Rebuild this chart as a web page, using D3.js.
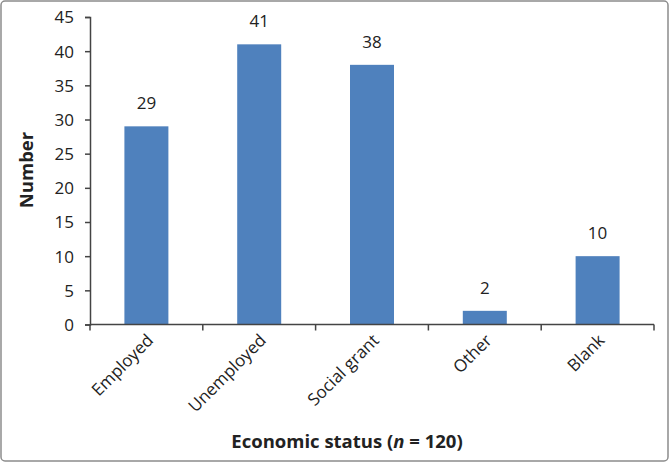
<!DOCTYPE html>
<html>
<head>
<meta charset="utf-8">
<script src="https://cdn.jsdelivr.net/npm/d3@7"></script>
<style>
    body { margin: 0; background: #fff; }
    text { font-family: "Open Sans", "Noto Sans", sans-serif; fill: #222; }
</style>
</head>
<body>
<script>
    // chart data
    let categories = ["Employed", "Unemployed", "Social grant", "Other", "Blank"];
    let counts = [29, 41, 38, 2, 10];
    let yTicks = [0, 5, 10, 15, 20, 25, 30, 35, 40, 45];

    window.onload = function () {
        let width = 670,
            height = 463;

        var svg = d3.select("body")
            .append("svg")
            .attr("width", width)
            .attr("height", height);

        //outer frame
        svg.append("rect")
            .attr("x", 1)
            .attr("y", 1)
            .attr("width", 667)
            .attr("height", 460)
            .attr("rx", 4)
            .attr("fill", "white")
            .attr("stroke", "#8c8c8c")
            .attr("stroke-width", 1.5);

        let left = 90, right = 654, top = 17, bottom = 324.5;

        var x = d3.scaleBand()
            .domain(categories)
            .range([left, right])
            .padding(0);

        var y = d3.scaleLinear()
            .domain([0, 45])
            .range([bottom, top]);

        let barW = x.bandwidth() * 0.39;

        //bars
        svg.selectAll(".bars")
            .data(categories)
            .enter()
            .append("rect")
            .attr("class", "bars")
            .attr("x", function (d) { return x(d) + (x.bandwidth() - barW) / 2; })
            .attr("width", barW)
            .attr("y", function (d, i) { return y(counts[i]); })
            .attr("height", function (d, i) { return bottom - y(counts[i]); })
            .attr("fill", "#4f81bd");

        //value labels
        svg.selectAll(".numbers")
            .data(categories)
            .enter()
            .append("text")
            .attr("class", "numbers")
            .attr("x", function (d) { return x(d) + x.bandwidth() / 2; })
            .attr("y", function (d, i) { return y(counts[i]) - 17; })
            .attr("text-anchor", "middle")
            .style("font-size", "17px")
            .text(function (d, i) { return counts[i]; });

        //y axis
        var yAxis = svg.append("g")
            .attr("transform", "translate(" + left + ",0)")
            .call(d3.axisLeft(y).tickValues(yTicks).tickSize(5).tickPadding(11));
        yAxis.selectAll("path, line").attr("stroke", "#444").attr("stroke-width", 1.5);
        yAxis.selectAll("text").style("font-size", "17px").attr("fill", "#222")
            .attr("dy", "0.35em")
            .style("font-family", "'Open Sans', sans-serif");

        //x axis with ticks on band edges
        var xAxis = svg.append("g")
            .attr("transform", "translate(0," + bottom + ")");
        xAxis.append("line")
            .attr("x1", left).attr("x2", right)
            .attr("stroke", "#444").attr("stroke-width", 1.5);
        let edges = categories.map(function (d) { return x(d); }).concat([right]);
        xAxis.selectAll(".xtick")
            .data(edges)
            .enter()
            .append("line")
            .attr("x1", function (d) { return d; })
            .attr("x2", function (d) { return d; })
            .attr("y1", 0).attr("y2", 6)
            .attr("stroke", "#444").attr("stroke-width", 1.5);
        xAxis.selectAll(".xlab")
            .data(categories)
            .enter()
            .append("text")
            .attr("text-anchor", "end")
            .attr("transform", function (d) {
                return "translate(" + (x(d) + x.bandwidth() / 2 + 8) + ",17) rotate(-45)";
            })
            .style("font-size", "17px")
            .text(function (d) { return d; });

        //axis titles
        svg.append("text")
            .attr("transform", "translate(33,170) rotate(-90)")
            .attr("text-anchor", "middle")
            .style("font-size", "18.5px")
            .style("font-weight", "bold")
            .text("Number");

        var title = svg.append("text")
            .attr("x", 347)
            .attr("y", 448)
            .attr("text-anchor", "middle")
            .style("font-size", "18.5px")
            .style("font-weight", "bold");
        title.append("tspan").text("Economic status (");
        title.append("tspan").style("font-style", "italic").text("n");
        title.append("tspan").text(" = 120)");
    };
</script>
</body>
</html>
